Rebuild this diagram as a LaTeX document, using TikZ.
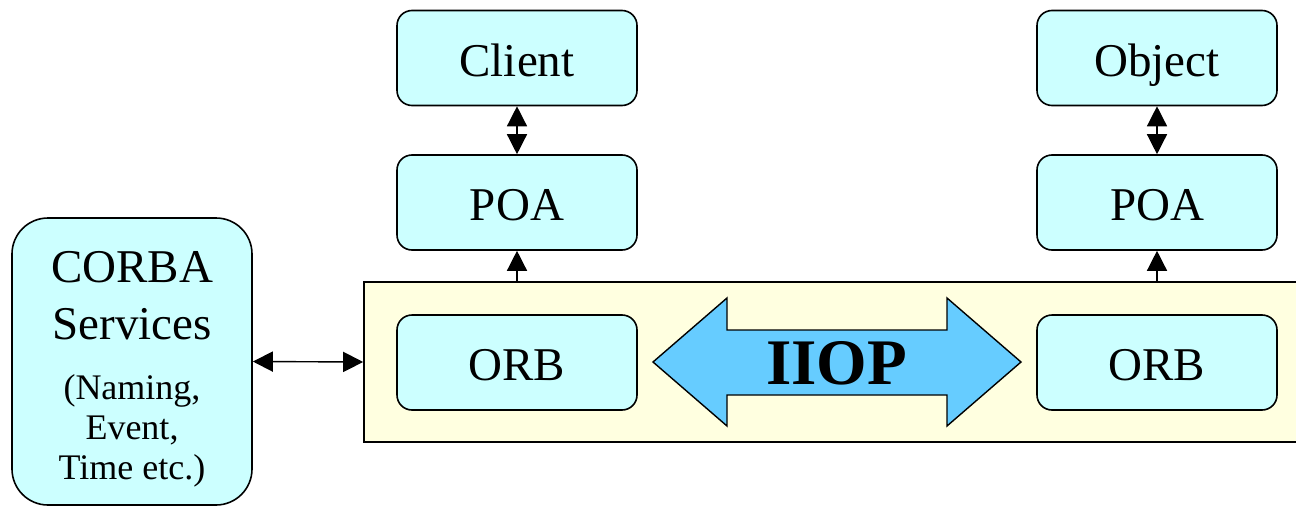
\documentclass[tikz,border=0pt]{standalone}
\usepackage{fontspec}
\setmainfont{Liberation Serif}
\usetikzlibrary{arrows.meta}
\definecolor{boxcyan}{HTML}{CCFFFF}
\definecolor{bandyellow}{HTML}{FFFFE0}
\definecolor{iiopblue}{HTML}{66CCFF}
\begin{document}
\begin{tikzpicture}[x=1pt,y=-1pt,
  comp/.style={draw,line width=1.6pt,fill=boxcyan,rounded corners=15pt,
    minimum width=240pt,minimum height=95pt,inner sep=0pt,
    text height=36pt,text depth=0pt,
    font=\fontsize{47}{50}\selectfont},
  link/.style={line width=1.4pt},
  >={Triangle[length=20pt,width=20pt]}
]
\clip (0,0) rectangle (1296,506);

% ORB band running off to the right
\node[draw,line width=1.6pt,fill=bandyellow,minimum width=936pt,minimum height=160pt,inner sep=0pt]
  (band) at (832,362) {};

% components
\node[comp] (client) at (517,58) {Client};
\node[comp] (object) at (1157,58) {Object};
\node[comp] (poaL) at (517,202.5) {POA};
\node[comp] (poaR) at (1157,202.5) {POA};
\node[comp] (orbL) at (517,362.5) {ORB};
\node[comp] (orbR) at (1157,362.5) {ORB};
\node[comp,minimum height=287pt,rounded corners=36pt] (corba) at (132,361.5) {};
\node[align=center,inner sep=0pt,font=\fontsize{36}{40}\selectfont] (corbatext) at (132,369)
  {{\fontsize{47}{50}\selectfont CORBA}\\[17pt]{\fontsize{47}{50}\selectfont Services}\\[20pt](Naming,\\Event,\\Time etc.)};

% IIOP double arrow
\draw[line width=1.4pt,fill=iiopblue,line join=miter]
  (653,362) -- (727,298) -- (727,330) -- (947,330) -- (947,298) -- (1021,362)
  -- (947,426) -- (947,395) -- (727,395) -- (727,426) -- cycle;
\node[inner sep=0pt,font=\fontsize{65}{70}\selectfont\bfseries] (iiop) at (836.5,363) {IIOP};

% connectors
\draw[link,<->] (client) -- (poaL);
\draw[link,<->] (object) -- (poaR);
\draw[link,->] (band.north -| poaL) -- (poaL);
\draw[link,->] (band.north -| poaR) -- (poaR);
\draw[link,<->] (corba.east) -- (band.west);
\end{tikzpicture}
\end{document}
